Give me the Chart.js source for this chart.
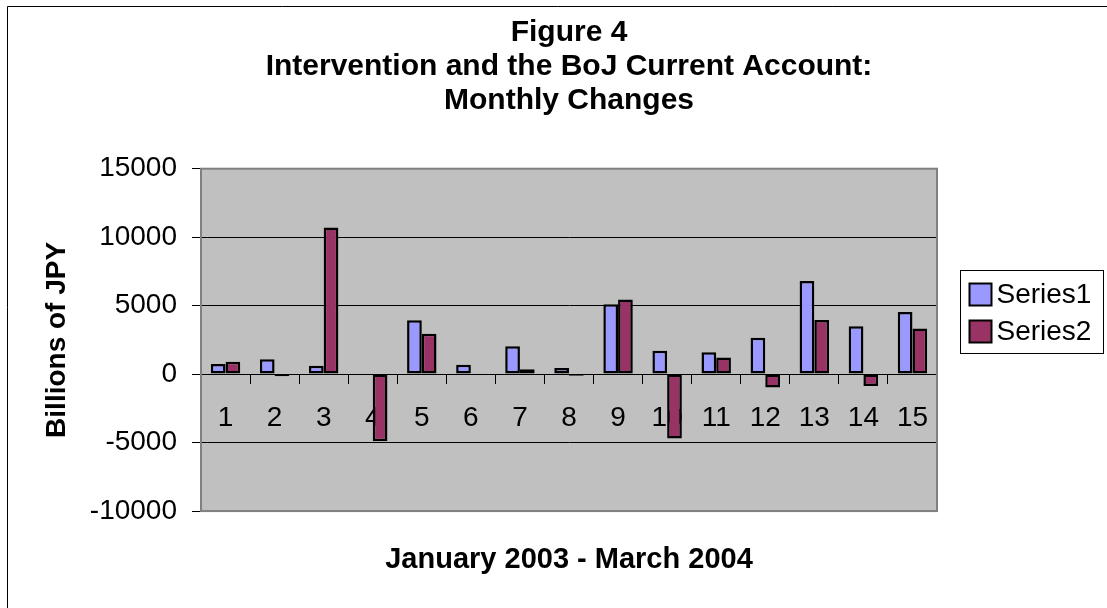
<!DOCTYPE html>
<html>
<head>
<meta charset="utf-8">
<title>Figure 4</title>
<script src="https://cdn.jsdelivr.net/npm/chart.js@4.4.0/dist/chart.umd.min.js"></script>
<style>
  html, body { margin: 0; padding: 0; background: #fff; }
  #wrap { width: 1107px; height: 608px; }
</style>
</head>
<body>
<div id="wrap"><canvas id="chart"></canvas></div>
<script>
// months Jan 2003 .. Mar 2004, numbered as in the original sheet
const months = ["1", "2", "3", "4", "5", "6", "7", "8", "9", "10", "11", "12", "13", "14", "15"];
const series1 = [730, 1090, 610, 0, 3930, 680, 2040, 440, 5100, 1700, 1600, 2650, 6800, 3500, 4540];
const series2 = [900, -160, 10700, -4900, 2940, 0, 360, -120, 5440, -4700, 1210, -970, 3960, -870, 3330];
const seriesNames = ["Series1", "Series2"];
const seriesColors = ["#9999ff", "#993366"];
const yMin = -10000;
const yMax = 15000;
const yStep = 5000;

const FONT = "'Liberation Sans', Arial, sans-serif";

// white page, frame lines, grey plot area, plot border and the boxed legend
const excelLook = {
    id: "excelLook",
    beforeDraw(chart) {
        const { ctx, chartArea: a } = chart;
        ctx.save();
        ctx.fillStyle = "#fff";
        ctx.fillRect(0, 0, chart.width, chart.height);
        ctx.strokeStyle = "#000";
        ctx.lineWidth = 1;
        ctx.beginPath();
        ctx.moveTo(7.5, chart.height);
        ctx.lineTo(7.5, 6.5);
        ctx.lineTo(chart.width, 6.5);
        ctx.stroke();
        ctx.fillStyle = "#c0c0c0";
        ctx.fillRect(a.left, a.top, a.right - a.left, a.bottom - a.top);
        ctx.restore();
    },
    afterDraw(chart) {
        const { ctx, chartArea: a } = chart;
        ctx.save();
        ctx.strokeStyle = "#808080";
        ctx.lineWidth = 2;
        ctx.strokeRect(a.left, a.top, a.right - a.left, a.bottom - a.top);

        // legend box
        const bx = a.right + 23.5;
        const by = 270.5;
        ctx.strokeStyle = "#000";
        ctx.lineWidth = 1;
        ctx.fillStyle = "#fff";
        ctx.fillRect(bx, by, 143, 83);
        ctx.strokeRect(bx, by, 143, 83);
        ctx.font = "28px " + FONT;
        ctx.textBaseline = "middle";
        chart.data.datasets.forEach((ds, i) => {
            const cy = by + 24 + i * 37;
            ctx.fillStyle = ds.backgroundColor;
            ctx.fillRect(bx + 9, cy - 11, 22, 22);
            ctx.lineWidth = 2;
            ctx.strokeRect(bx + 9, cy - 11, 22, 22);
            ctx.fillStyle = "#000";
            ctx.fillText(ds.label, bx + 36, cy + 1);
        });
        ctx.restore();
    }
};

const ctx = document.getElementById("chart").getContext("2d");
new Chart(ctx, {
    type: "bar",
    data: {
        labels: months,
        datasets: [
            {
                label: seriesNames[0],
                data: series1,
                backgroundColor: seriesColors[0],
                borderColor: "#000",
                borderWidth: 2.5,
                borderSkipped: false,
            },
            {
                label: seriesNames[1],
                data: series2,
                backgroundColor: seriesColors[1],
                borderColor: "#000",
                borderWidth: 2.5,
                borderSkipped: false,
            }
        ]
    },
    options: {
        responsive: true,
        maintainAspectRatio: false,
        animation: false,
        layout: { padding: { left: 7, right: 170, top: 0, bottom: 0 } },
        datasets: { bar: { categoryPercentage: 0.6, barPercentage: 1 } },
        plugins: {
            legend: { display: false },
            tooltip: { enabled: false },
            title: {
                display: true,
                fullSize: false,
                text: ["Figure 4", "Intervention and the BoJ Current Account:", "Monthly Changes"],
                color: "#000",
                font: { family: FONT, size: 30, weight: "bold", lineHeight: 1.13 },
                padding: { top: 16, bottom: 51 }
            },
            subtitle: {
                display: true,
                position: "bottom",
                fullSize: false,
                text: "January 2003 - March 2004",
                color: "#000",
                font: { family: FONT, size: 29, weight: "bold", lineHeight: 1.17 },
                padding: { top: 32, bottom: 31 }
            }
        },
        scales: {
            x: {
                position: { y: 0 },
                offset: true,
                grid: {
                    offset: true,
                    drawOnChartArea: false,
                    drawTicks: true,
                    tickLength: 9,
                    color: "#000"
                },
                border: { display: true, color: "#000", width: 1 },
                ticks: {
                    color: "#000",
                    padding: 18,
                    autoSkip: false,
                    maxRotation: 0,
                    font: { family: FONT, size: 28 }
                }
            },
            y: {
                min: yMin,
                max: yMax,
                afterFit: (scale) => { scale.width = 194; },
                ticks: {
                    stepSize: yStep,
                    color: "#000",
                    padding: 15,
                    font: { family: FONT, size: 28 },
                    callback: (v) => String(v)
                },
                grid: {
                    color: (c) => (c.tick && (c.tick.value === yMax || c.tick.value === yMin)) ? "rgba(0,0,0,0)" : "#000",
                    tickColor: "#000",
                    tickLength: 9,
                    lineWidth: 1
                },
                border: { display: true, color: "#808080", width: 2 },
                title: {
                    display: true,
                    text: "Billions of JPY",
                    color: "#000",
                    font: { family: FONT, size: 28, weight: "bold" },
                    padding: { top: 33, bottom: 4 }
                }
            }
        }
    },
    plugins: [excelLook]
});
</script>
</body>
</html>
